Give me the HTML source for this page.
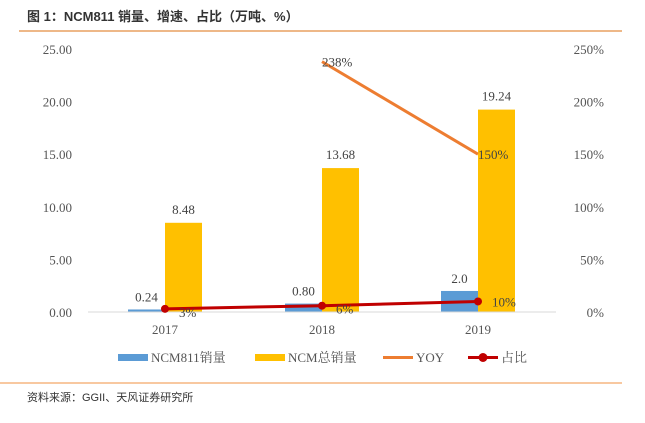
<!DOCTYPE html>
<html><head><meta charset="utf-8"><style>
body{margin:0;background:#fff;width:645px;height:418px;overflow:hidden;font-family:"Liberation Serif","Noto Serif CJK SC",serif}
</style></head><body>
<svg width="645" height="418">
<text x="27" y="21" font-size="13" font-weight="bold" font-family="Liberation Sans,Noto Sans CJK SC,sans-serif" fill="#333">图 1：NCM811 销量、增速、占比（万吨、%）</text>
<line x1="19" y1="31" x2="622" y2="31" stroke="#e8a060" stroke-width="1.5"/>
<g id="axes"></g><g id="marks"></g>
<line x1="0" y1="383" x2="622" y2="383" stroke="#f09040" stroke-width="1"/>
<text x="27" y="401" font-size="11" font-family="Liberation Sans,Noto Sans CJK SC,sans-serif" fill="#333">资料来源：GGII、天风证券研究所</text>
</svg>
<script>
const categories=["2017","2018","2019"];
const ncm811=[0.24,0.80,2.0];
const ncm811Labels=["0.24","0.80","2.0"];
const ncmTotal=[8.48,13.68,19.24];
const yoy=[null,238,150];
const share=[3,6,10];
const leftTicks=[0,5,10,15,20,25];
const rightTicks=[0,50,100,150,200,250];
const NS="http://www.w3.org/2000/svg";
const y0=312,yTop=49,xc=[165,322,478],bw=37;
const yL=v=>y0-(v/25)*(y0-yTop), yR=v=>y0-(v/250)*(y0-yTop);
const axes=document.getElementById('axes'),marks=document.getElementById('marks');
function mk(p,tag,a,t){const e=document.createElementNS(NS,tag);for(const k in a)e.setAttribute(k,a[k]);if(t!=null)e.textContent=t;p.appendChild(e);return e;}
leftTicks.forEach(v=>{const e=mk(axes,'text',{x:72,y:yL(v)+5,'font-size':13,fill:'#555','text-anchor':'end'},v.toFixed(2));

});
rightTicks.forEach(v=>{const e=mk(axes,'text',{x:604,y:yR(v)+5,'font-size':13,fill:'#555','text-anchor':'end'},v+'%');

});
categories.forEach((c,i)=>{const e=mk(axes,'text',{x:xc[i],y:334,'font-size':13,fill:'#555','text-anchor':'middle'},c);


let b=mk(marks,'rect',{x:xc[i]-bw,y:yL(ncm811[i]),width:bw,height:y0-yL(ncm811[i]),fill:'#5b9bd5'});


let b2=mk(marks,'rect',{x:xc[i],y:yL(ncmTotal[i]),width:bw,height:y0-yL(ncmTotal[i]),fill:'#ffc000'});


let l1=mk(marks,'text',{x:xc[i]-bw/2,y:yL(ncm811[i])-8,'font-size':13,fill:'#444','text-anchor':'middle'},ncm811Labels[i]);


let l2=mk(marks,'text',{x:xc[i]+bw/2,y:yL(ncmTotal[i])-9,'font-size':13,fill:'#444','text-anchor':'middle'},ncmTotal[i].toFixed(2));

});
let ax=mk(marks,'line',{x1:88,y1:y0,x2:556,y2:y0,stroke:'#d9d9d9','stroke-width':1});


let pts=[];yoy.forEach((v,i)=>{if(v!=null)pts.push(xc[i]+','+yR(v));});
let yl=mk(marks,'polyline',{points:pts.join(' '),fill:'none',stroke:'#ed7d31','stroke-width':3});


yoy.forEach((v,i)=>{if(v==null)return;const t=mk(marks,'text',{x:xc[i],y:yR(v)+5,'font-size':13,fill:'#444'},v+'%');

});
let sl=mk(marks,'polyline',{points:share.map((v,i)=>xc[i]+','+yR(v)).join(' '),fill:'none',stroke:'#c00000','stroke-width':3});


share.forEach((v,i)=>{const c=mk(marks,'circle',{cx:xc[i],cy:yR(v),r:4,fill:'#c00000'});


const t=mk(marks,'text',{x:xc[i]+14,y:yR(v)+(i==2?5:8),'font-size':13,fill:'#444'},v+'%');

});
const leg=[["NCM811销量",'#5b9bd5','rect',118],["NCM总销量",'#ffc000','rect',255],["YOY",'#ed7d31','line',383],["占比",'#c00000','dot',468]];
leg.forEach(l=>{const g=mk(marks,'g',{});


if(l[2]=='rect')mk(g,'rect',{x:l[3],y:354,width:30,height:7,fill:l[1]});
else{mk(g,'line',{x1:l[3],y1:357.5,x2:l[3]+30,y2:357.5,stroke:l[1],'stroke-width':3});if(l[2]=='dot')mk(g,'circle',{cx:l[3]+15,cy:357.5,r:4.5,fill:l[1]});}
mk(g,'text',{x:l[3]+33,y:362,'font-size':13,fill:'#555'},l[0]);});
</script>
</body></html>
